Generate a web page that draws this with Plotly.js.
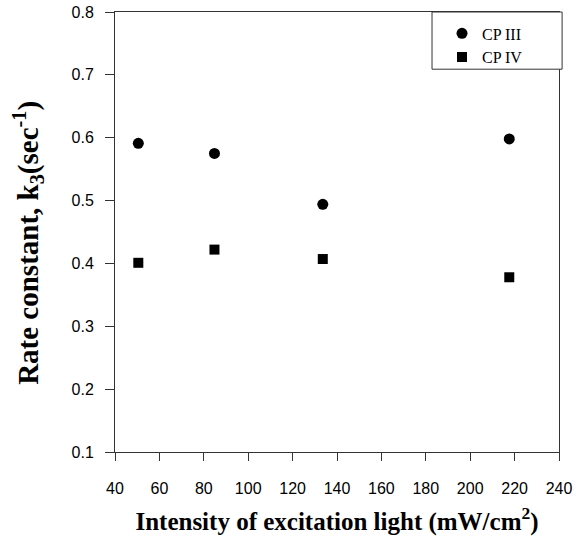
<!DOCTYPE html>
<html>
<head>
<meta charset="utf-8">
<script src="https://cdn.plot.ly/plotly-3.0.1.min.js"></script>
<style>html,body{margin:0;padding:0;background:#fff;}#chart{width:575px;height:536px;}</style>
</head>
<body>
<div id="chart"></div>
<script>
var intensity = [50.5, 84.8, 133.6, 217.6];
var cp3 = [0.591, 0.575, 0.494, 0.598];
var cp4 = [0.401, 0.422, 0.407, 0.378];
var seriesNames = ["CP III", "CP IV"];
var xTicks = [40, 60, 80, 100, 120, 140, 160, 180, 200, 220, 240];
var yTicks = [0.1, 0.2, 0.3, 0.4, 0.5, 0.6, 0.7, 0.8];

var traces = [
  {x: intensity, y: cp3, name: seriesNames[0], type: 'scatter', mode: 'markers',
   marker: {symbol: 'circle', size: 11, color: '#000'}},
  {x: intensity, y: cp4, name: seriesNames[1], type: 'scatter', mode: 'markers',
   marker: {symbol: 'square', size: 10, color: '#000'}}
];

var axisCommon = {
  showgrid: false, zeroline: false, showline: true, linecolor: '#333', linewidth: 1,
  mirror: true, ticks: 'outside', tickcolor: '#333', tickwidth: 1,
  tickfont: {family: 'Liberation Sans, Arial, sans-serif', size: 16, color: '#000'}
};

var layout = {
  width: 575, height: 536,
  margin: {l: 115, r: 16, t: 12, b: 84},
  paper_bgcolor: '#fff', plot_bgcolor: '#fff',
  showlegend: true,
  legend: {x: 0.7365, y: 0.99, xanchor: 'left', yanchor: 'top',
    bgcolor: 'rgba(0,0,0,0)', borderwidth: 0,
    font: {family: 'Liberation Serif, Times New Roman, serif', size: 16, color: '#000'}},
  xaxis: Object.assign({}, axisCommon, {
    range: [40, 240], tickvals: xTicks, ticktext: xTicks.map(String), ticklen: 8,
    ticklabelstandoff: 14,
    title: {text: 'Intensity of excitation light (mW/cm<sup>2</sup>)', standoff: 17,
      font: {family: 'Liberation Serif, Times New Roman, serif', size: 25, color: '#000', weight: 'bold'}}
  }),
  yaxis: Object.assign({}, axisCommon, {
    range: [0.1, 0.8], tickvals: yTicks, ticktext: yTicks.map(function(v){return v.toFixed(1);}), ticklen: 9,
    ticklabelstandoff: 8,
    title: {text: 'Rate constant, k<sub>3</sub>(sec<sup>-1</sup>)&nbsp;&nbsp;&nbsp;', standoff: 24,
      font: {family: 'Liberation Serif, Times New Roman, serif', size: 29, color: '#000', weight: 'bold'}}
  }),
  shapes: [{type: 'rect', xref: 'paper', yref: 'paper', x0: 0.714, x1: 1.007, y0: 0.870, y1: 1.0,
    line: {color: '#333', width: 1}, fillcolor: '#fff', layer: 'above'}]
};

Plotly.newPlot('chart', traces, layout, {staticPlot: true});
</script>
</body>
</html>
